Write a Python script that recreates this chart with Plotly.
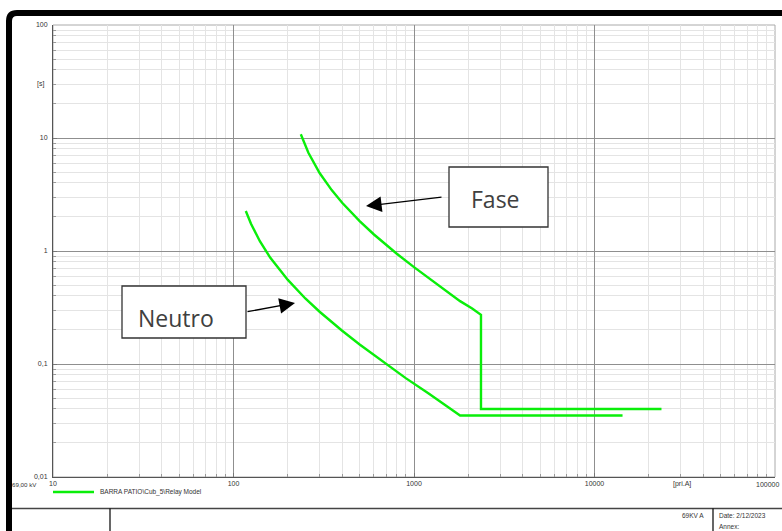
import plotly.graph_objects as go

# ---- data ----
fase_current = [236, 260, 300, 350, 400, 500, 600, 700, 800, 1000, 1200, 1500, 1800, 2100, 2350, 2350, 23500]
fase_time = [10.8, 7.4, 4.9, 3.46, 2.67, 1.84, 1.40, 1.13, 0.95, 0.72, 0.58, 0.45, 0.36, 0.31, 0.272, 0.040, 0.040]

neutro_current = [117, 125, 140, 160, 200, 250, 300, 400, 500, 700, 900, 1200, 1500, 1800, 14300]
neutro_time = [2.26, 1.74, 1.22, 0.87, 0.555, 0.38, 0.29, 0.197, 0.149, 0.100, 0.075, 0.055, 0.043, 0.035, 0.035]

x_tickvals = [10, 100, 1000, 10000, 100000]
x_ticktext = ["10", "100", "1000", "10000", "100000"]
y_tickvals = [0.01, 0.1, 1, 10, 100]
y_ticktext = ["0,01", "0,1", "1", "10", "100"]

legend_name = "BARRA PATIO\\Cub_5\\Relay Model"

# ---- layout helpers (pixel -> paper) ----
W, H = 782, 531
L, R, T, B = 53, 7, 25, 54
PW, PH = W - L - R, H - T - B


def px(x):
    return (x - L) / PW


def py(y):
    return (H - B - y) / PH


GREEN = "#0aee0a"
TICKFONT = dict(family="Liberation Sans, Arial", size=7, color="#333")

fig = go.Figure()
fig.add_trace(go.Scatter(x=fase_current, y=fase_time, mode="lines",
                         line=dict(color=GREEN, width=2.4), name=legend_name, showlegend=False))
fig.add_trace(go.Scatter(x=neutro_current, y=neutro_time, mode="lines",
                         line=dict(color=GREEN, width=2.4), name=legend_name, showlegend=False))

axis_common = dict(
    type="log", tickmode="array", showgrid=True, gridcolor="#8f8f8f", gridwidth=1,
    ticks="inside", ticklen=4, tickcolor="#777", showline=True, linecolor="#555", linewidth=1,
    zeroline=False, tickfont=TICKFONT,
    minor=dict(dtick="D1", showgrid=True, gridcolor="#e4e4e4", gridwidth=1,
               ticks="inside", ticklen=3, tickcolor="#999"),
)
fig.update_xaxes(range=[1, 5], tickvals=x_tickvals, ticktext=x_ticktext, **axis_common)
fig.update_yaxes(range=[-2, 2], tickvals=y_tickvals, ticktext=y_ticktext,
                 ticklabelstandoff=3, **axis_common)

shapes = []
# light top/right plot border
shapes.append(dict(type="rect", xref="paper", yref="paper", x0=0, x1=1, y0=0, y1=1,
                   line=dict(color="#aaaaaa", width=1), layer="below"))
# thick black frame (top + left, rounded corner)
shapes.append(dict(type="path", xref="paper", yref="paper",
                   path=f"M {px(9)},{py(540)} L {px(9)},{py(21)} Q {px(9)},{py(13)} {px(17)},{py(13)} L {px(790)},{py(13)}",
                   line=dict(color="black", width=6)))
# bottom title-block lines
shapes.append(dict(type="line", xref="paper", yref="paper", x0=px(12), x1=px(790), y0=py(508.5), y1=py(508.5),
                   line=dict(color="#444", width=1.5)))
shapes.append(dict(type="line", xref="paper", yref="paper", x0=px(110), x1=px(110), y0=py(508.5), y1=py(540),
                   line=dict(color="black", width=1.2)))
shapes.append(dict(type="line", xref="paper", yref="paper", x0=px(713), x1=px(713), y0=py(508.5), y1=py(540),
                   line=dict(color="black", width=1.2)))
# legend sample line
shapes.append(dict(type="line", xref="paper", yref="paper", x0=px(53), x1=px(94), y0=py(492), y1=py(492),
                   line=dict(color=GREEN, width=2.4)))
# annotation boxes
shapes.append(dict(type="rect", xref="paper", yref="paper", x0=px(449), x1=px(548), y0=py(227), y1=py(167),
                   line=dict(color="#333", width=1.3), fillcolor="white"))
shapes.append(dict(type="rect", xref="paper", yref="paper", x0=px(122), x1=px(246), y0=py(338), y1=py(286),
                   line=dict(color="#333", width=1.3), fillcolor="white"))

small = dict(family="Liberation Sans, Arial", size=6.5, color="#333")
ann = []


def text(x, y, s, xanchor="center", font=None):
    ann.append(dict(xref="paper", yref="paper", x=px(x), y=py(y), text=s, showarrow=False,
                    xanchor=xanchor, yanchor="middle", font=font or TICKFONT))


text(46, 84, "[s]", "right")
text(39, 484, "69,00 kV", "right", dict(family="Liberation Sans, Arial", size=6.2, color="#333"))
text(682, 484, "[pri.A]", "center")
text(781, 484, x_ticktext[-1], "right")  # last tick label, kept inside the page
text(98, 492, legend_name, "left", small)
text(706, 515, "69KV A", "right", small)
text(717, 515, "Date: 2/12/2023", "left", small)
text(717, 526, "Annex:", "left", small)

big = dict(family="Open Sans, Noto Sans", size=23, color="#404040")
text(495, 199, "Fase", "center", big)
text(176, 318, "Neutro", "center", big)

# arrows
ann.append(dict(xref="paper", yref="paper", x=px(366), y=py(206), ax=443 - 366, ay=197 - 206,
                text="", showarrow=True, arrowhead=2, arrowsize=2.4, arrowwidth=1.3,
                arrowcolor="black", startstandoff=0, standoff=0))
ann.append(dict(xref="paper", yref="paper", x=px(295), y=py(303), ax=246 - 295, ay=312 - 303,
                text="", showarrow=True, arrowhead=2, arrowsize=2.4, arrowwidth=1.3,
                arrowcolor="black", startstandoff=0, standoff=0))

fig.update_layout(
    width=W, height=H, margin=dict(l=L, r=R, t=T, b=B, autoexpand=False),
    paper_bgcolor="white", plot_bgcolor="white", showlegend=False,
    shapes=shapes, annotations=ann,
)

fig.write_html("out.html", config={"displayModeBar": False},
               post_script="document.body.style.margin='0px';document.body.style.overflow='hidden';")
